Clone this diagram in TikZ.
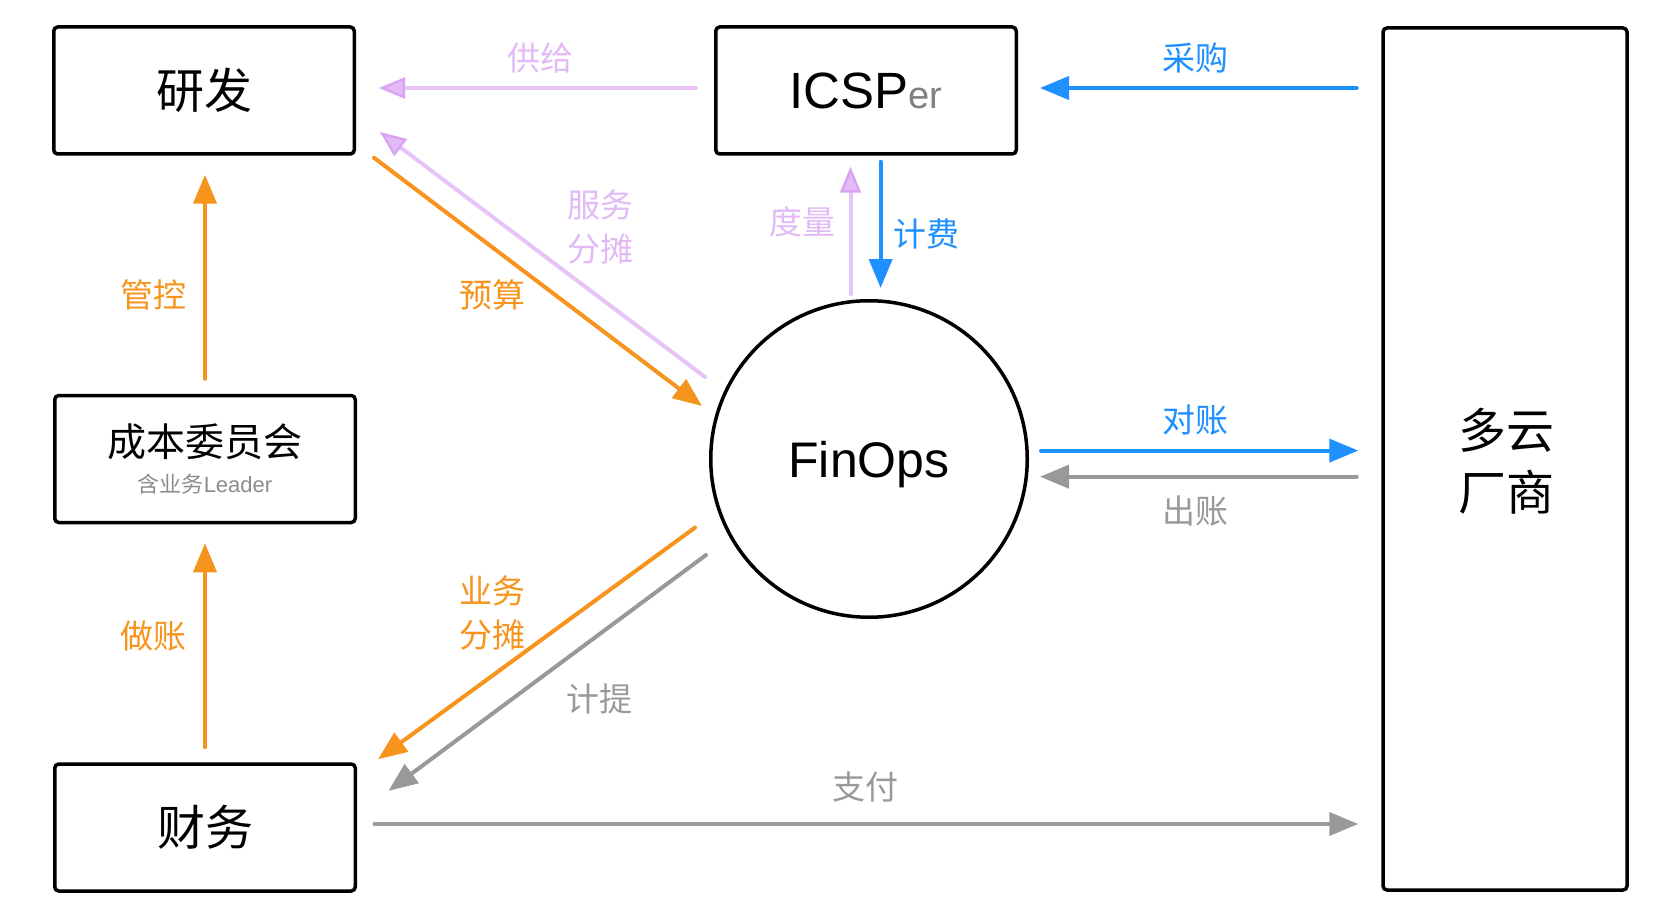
\documentclass[tikz,border=0pt]{standalone}
\usepackage{fontspec}
\setmainfont{Liberation Sans}
\newfontfamily\cjk{Noto Sans CJK SC}
\usetikzlibrary{arrows.meta,calc}
\definecolor{cblue}{RGB}{30,144,255}
\definecolor{corange}{RGB}{247,148,29}
\definecolor{cgray}{RGB}{153,153,153}
\definecolor{cpurple}{RGB}{230,196,248}
\definecolor{cpurpleedge}{RGB}{218,164,244}
\definecolor{cpurplefill}{RGB}{229,186,248}
\definecolor{cpurpletext}{RGB}{226,186,246}
\definecolor{csub}{RGB}{140,140,140}
\begin{document}
\begin{tikzpicture}[x=1pt,y=-1pt,
  box/.style={draw=black,line width=3.5pt,rounded corners=4pt,minimum width=300.5pt,minimum height=127pt,inner sep=0pt},
  bigtext/.style={font={\cjk\fontsize{48}{62}\selectfont}},
  lbl/.style={inner sep=0pt,anchor=center,align=center,font={\cjk\fontsize{33}{44}\selectfont}},
  conn/.style={line width=4pt,line cap=round},
  bluearr/.style={conn,draw=cblue,-{Triangle[length=29pt,width=23pt]}},
  orangearr/.style={conn,draw=corange,-{Triangle[length=29pt,width=23pt]}},
  grayarr/.style={conn,draw=cgray,-{Triangle[length=29pt,width=23pt]}},
  purplearr/.style={conn,draw=cpurple,-{Triangle[length=26pt,width=21pt,fill=cpurplefill,color=cpurpleedge,line width=2.5pt]}}
]
\useasboundingbox[fill=white] (0,0) rectangle (1676,912);

% nodes
\node[box,bigtext] (yanfa) at (204,90.5) {研发};
\node[box] (icsp) at (866,90.5) {\fontsize{51}{60}\selectfont ICSP{\fontsize{38}{44}\selectfont\color{gray}er}};
\node[box,align=center,font={\fontsize{39}{36}\selectfont}] (cbwy) at (205,459) {{\cjk\fontsize{39}{36}\selectfont 成本委员会}\\{\fontsize{22}{36}\selectfont\color{csub}{\cjk 含业务}Leader}};
\node[box,bigtext] (caiwu) at (205,827.5) {财务};
\node[draw=black,line width=3.5pt,rounded corners=4pt,minimum width=244pt,minimum height=862pt,inner sep=0pt] (duoyun) at (1505,459) {};
\node[bigtext,align=center,inner sep=0pt] (duoyuntext) at (1506,461.5) {多云\\厂商};
\node[draw=black,line width=3.5pt,circle,minimum size=316.5pt,inner sep=0pt,text depth=0pt,font=\fontsize{50}{60}\selectfont] (finops) at (869,459) {FinOps};

% connectors
\draw[purplearr] ($(icsp.west)+(-18,-2.5)$) -- ($(yanfa.east)+(23,-2.5)$);
\draw[bluearr] ($(duoyun.west|-icsp.west)+(-24.5,-2.5)$) -- ($(icsp.east)+(22,-2.5)$);
\draw[purplearr] ($(finops.center)+(-164,-82)$) -- ($(yanfa.east)+(24,41.5)$);
\draw[orangearr] ($(yanfa.south east)+(18,2)$) -- ($(finops.center)+(-167,-53)$);
\draw[purplearr] ($(finops.north)+(-18.5,-5)$) -- ($(icsp.south)+(-15.5,11)$);
\draw[bluearr] ($(icsp.south)+(14.6,6)$) -- ($(finops.north)+(11.6,-11)$);
\draw[orangearr] ($(cbwy.north)+(0,-15)$) -- ($(yanfa.south)+(1,19)$);
\draw[orangearr] ($(caiwu.north)+(0,-15)$) -- ($(cbwy.south)+(0,19)$);
\draw[bluearr] ($(finops.east)+(12,-8.4)$) -- ($(duoyun.west)+(-23,-8.4)$);
\draw[grayarr] ($(duoyun.west)+(-24.5,17.7)$) -- ($(finops.east)+(11,17.7)$);
\draw[grayarr] ($(caiwu.east)+(17.5,-3.5)$) -- ($(duoyun.west|-caiwu.east)+(-23,-3.5)$);
\draw[orangearr] ($(finops.center)+(-174,68.6)$) -- ($(caiwu.north east)+(21,-3)$);
\draw[grayarr] ($(finops.center)+(-163,96)$) -- ($(caiwu.north east)+(31.5,28.6)$);

% labels
\node[lbl,text=cpurpletext] (lgongji) at (540,58) {供给};
\node[lbl,text=cblue] (lcaigou) at (1195,58) {采购};
\node[lbl,text=cpurpletext] (lfuwu) at (600,227) {服务\\分摊};
\node[lbl,text=cpurpletext] (ldulian) at (802,222) {度量};
\node[lbl,text=cblue] (ljifei) at (926,234) {计费};
\node[lbl,text=corange] (lguankong) at (153,295) {管控};
\node[lbl,text=corange] (lyusuan) at (492,295) {预算};
\node[lbl,text=cblue] (lduizhang) at (1195,420) {对账};
\node[lbl,text=cgray] (lchuzhang) at (1195,511) {出账};
\node[lbl,text=cgray] (lzhifu) at (865,787) {支付};
\node[lbl,text=corange] (lyewu) at (492,613) {业务\\分摊};
\node[lbl,text=corange] (lzuozhang) at (153,636) {做账};
\node[lbl,text=cgray] (ljiti) at (599,699) {计提};
\end{tikzpicture}
\end{document}
